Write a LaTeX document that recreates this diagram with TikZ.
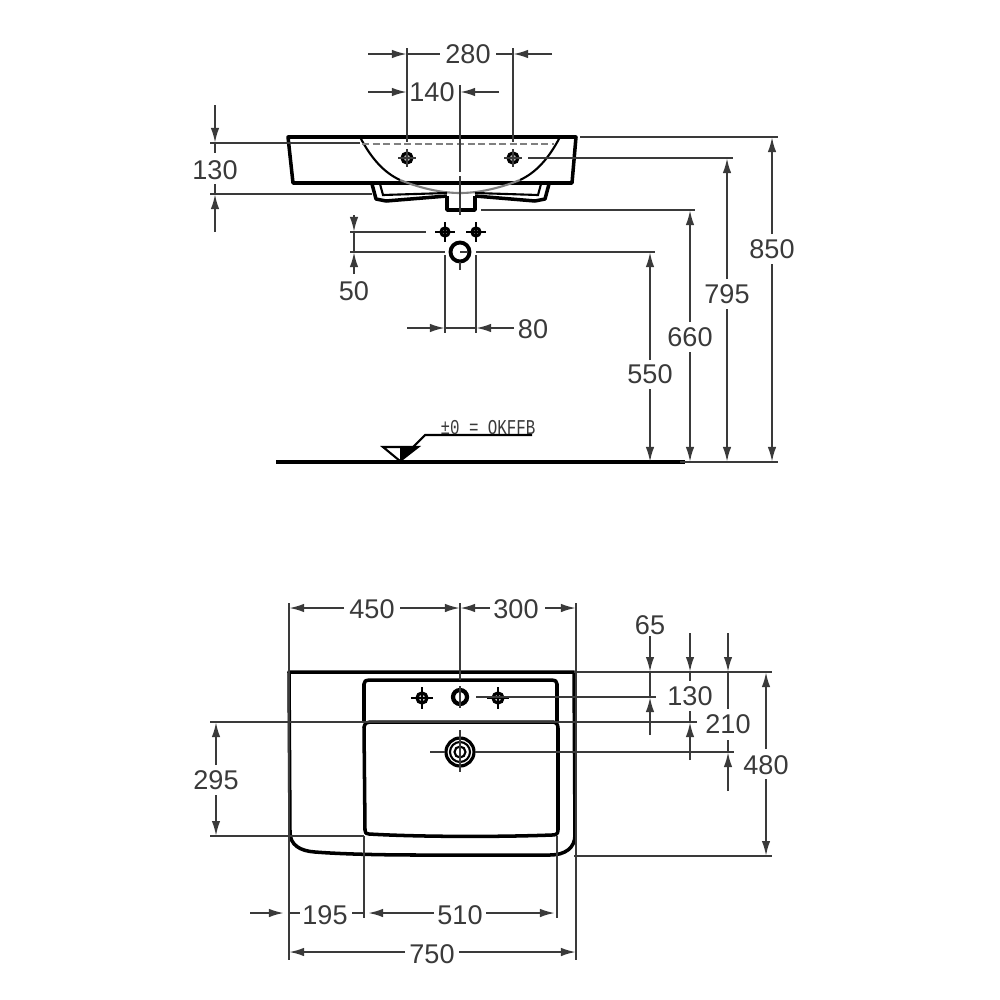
\documentclass[tikz,border=0pt]{standalone}
\usepackage{fontspec}
\setmainfont{Liberation Sans}
\newfontfamily\levelfont{Liberation Mono}
\usetikzlibrary{arrows.meta,calc}
\definecolor{dimgray}{HTML}{3A3A3A}
\tikzset{
    outline/.style = {draw=black, line width=1pt, line join=round},
    thinline/.style = {draw=black, line width=0.6pt},
    dimline/.style = {draw=dimgray, line width=0.6pt},
    dimarrow/.style = {dimline, -{Latex[length=1.5mm,width=0.85mm]}},
    dimtext/.style = {text=dimgray, font=\fontsize{7.7}{9}\selectfont, inner sep=0pt},
    hole/.style = {draw=black, line width=0.9pt, fill=gray!60},
    floorline/.style = {draw=black, line width=1.2pt}
}
% cross through a fitting, arm lengths in px
\def\fitcross#1{%
    +(-#1,0) -- +(#1,0) +(0,-#1) -- +(0,#1)
}
\begin{document}
\begin{tikzpicture}[x=0.01cm,y=-0.01cm]
    \useasboundingbox (0,0) rectangle (1000,1000);
    % side view, basin
    \draw [outline] (288,137) -- (576,137) -- (572,183) -- (293,183) -- cycle;
    \draw [thinline] (360,137) .. controls (372,160) and (385,173) .. (400,180);
    \draw [thinline] (520,180) .. controls (535,173) and (548,160) .. (560,137);
    \draw [thinline, gray] (400,180) .. controls (425,190) and (445,193) .. (460,193) .. controls (475,193) and (495,190) .. (520,180);
    \draw [thinline, dashed, dash pattern=on 2pt off 1pt, gray] (362,144) -- (554,144);
    \draw [outline] (372,184) -- (376,199) -- (386,201) -- (447,196);
    \draw [thinline] (380,184) -- (383,195) -- (447,193);
    \draw [outline] (549,184) -- (545,199) -- (535,201) -- (475,196);
    \draw [thinline] (541,184) -- (538,195) -- (475,193);
    \draw [outline] (447,196) -- (447,210) -- (475,210) -- (475,196);
    \draw [hole] (407,158) circle (5);
    \draw [hole] (513,158) circle (5);
    \draw [dimline] (407,158) \fitcross{9};
    \draw [dimline] (513,158) \fitcross{9};
    \draw [hole] (445,232) circle (4);
    \draw [hole] (476,232) circle (4);
    \draw [thinline] (445,232) \fitcross{10};
    \draw [thinline] (476,232) \fitcross{10};
    \draw [draw=black, line width=1.1pt] (460,252) circle (9.5);
    \draw [dimline] (460,252) -- (468,252);
    \draw [dimline] (460,262) -- (460,270);
    % floor and level mark
    \draw [floorline] (276,462) -- (685,462);
    \draw [thinline] (383,447) -- (400,461) -- (418,447) -- cycle;
    \fill [black] (400,447) -- (418,447) -- (400,461) -- cycle;
    \draw [thinline] (413,447) -- (425,435) -- (532,435);
    \node [name=levelmark, text=dimgray, xscale=0.75, font=\levelfont\fontsize{6}{7}\selectfont, inner sep=0pt] at (488,428) {±0 = OKFFB};
    % side view, extension lines
    \draw [dimline] (407,48) -- (407,142);
    \draw [dimline] (513,48) -- (513,142);
    \draw [dimline] (460,85) -- (460,172) (460,176) -- (460,215);
    \draw [dimline] (210,143) -- (360,143);
    \draw [dimline] (210,194) -- (372,194);
    \draw [dimline] (350,232) -- (426,232);
    \draw [dimline] (350,252) -- (445,252);
    \draw [dimline] (445,255) -- (445,333);
    \draw [dimline] (476,255) -- (476,333);
    \draw [dimline] (580,137) -- (778,137);
    \draw [dimline] (528,158) -- (733,158);
    \draw [dimline] (481,210) -- (695,210);
    \draw [dimline] (476,252) -- (655,252);
    \draw [dimline] (680,462) -- (778,462);
    % side view, dimensions
    \node [dimtext, name=dimA] at (468,54) {280};
    \draw [dimarrow] (368,54) -- (407,54);
    \draw [dimline] (407,54) -- (440,54);
    \draw [dimarrow] (552,54) -- (513,54);
    \draw [dimline] (496,54) -- (513,54);
    \node [dimtext, name=dimB] at (432,92) {140};
    \draw [dimarrow] (368,92) -- (407,92);
    \draw [dimarrow] (499,92) -- (460,92);
    \node [dimtext, name=dimC] at (215,170) {130};
    \draw [dimarrow] (215,105) -- (215,143);
    \draw [dimline] (215,143) -- (215,153);
    \draw [dimarrow] (215,232) -- (215,194);
    \draw [dimline] (215,184) -- (215,194);
    \node [dimtext, name=dimD] at (354,291) {50};
    \draw [dimarrow] (354,215) -- (354,232);
    \draw [dimline] (354,232) -- (354,252);
    \draw [dimarrow] (354,274) -- (354,252);
    \node [dimtext, name=dimE] at (533,329) {80};
    \draw [dimarrow] (407,328) -- (445,328);
    \draw [dimline] (445,328) -- (476,328);
    \draw [dimarrow] (514,328) -- (476,328);
    \node [dimtext, name=dimF] at (650,374) {550};
    \draw [dimarrow] (650,360) -- (650,252);
    \draw [dimarrow] (650,389) -- (650,462);
    \node [dimtext, name=dimG] at (690,337) {660};
    \draw [dimarrow] (690,322) -- (690,210);
    \draw [dimarrow] (690,352) -- (690,462);
    \node [dimtext, name=dimH] at (727,294) {795};
    \draw [dimarrow] (727,279) -- (727,158);
    \draw [dimarrow] (727,309) -- (727,462);
    \node [dimtext, name=dimI] at (772,249) {850};
    \draw [dimarrow] (772,234) -- (772,137);
    \draw [dimarrow] (772,264) -- (772,462);
    % top view, basin
    \draw [outline] (289,672) -- (574,672) -- (575,835) .. controls (575,848) and (565,855) .. (550,855) -- (420,855) .. controls (380,855) and (340,854) .. (315,852) .. controls (300,851) and (290,845) .. (290,832) -- cycle;
    \draw [outline] (364,722) -- (364,684) .. controls (364,681) and (366,680) .. (369,680) -- (552,680) .. controls (555,680) and (557,681) .. (557,684) -- (557,722);
    \draw [outline] (364,727) .. controls (365,723) and (367,722) .. (370,722) -- (552,722) .. controls (556,722) and (558,724) .. (558,728) -- (558,830) .. controls (558,834) and (556,835) .. (552,835) .. controls (500,837) and (420,837) .. (369,834) .. controls (366,834) and (365,833) .. (365,830) -- cycle;
    \draw [hole, fill=gray!40] (422,698) circle (5);
    \draw [hole, fill=gray!40] (498,698) circle (5);
    \draw [thinline] (422,698) \fitcross{11};
    \draw [thinline] (498,698) \fitcross{11};
    \draw [draw=black, line width=1.2pt] (460,697) circle (7);
    \draw [dimline] (460,686) -- (460,708);
    \draw [draw=black, line width=0.9pt] (460,752) circle (14);
    \draw [draw=black, line width=0.6pt] (460,752) circle (10);
    \draw [draw=black, line width=0.6pt] (460,752) circle (5.5);
    \draw [dimline] (430,752) -- (445,752) (460,730) -- (460,772);
    % top view, extension lines
    \draw [dimline] (289,603) -- (289,960);
    \draw [dimline] (576,603) -- (576,960);
    \draw [dimline] (460,603) -- (460,680);
    \draw [dimline] (364,836) -- (364,918);
    \draw [dimline] (557,836) -- (557,918);
    \draw [dimline] (574,672) -- (772,672);
    \draw [dimline] (476,697) -- (656,697);
    \draw [dimline] (210,722) -- (697,722);
    \draw [dimline] (475,752) -- (734,752);
    \draw [dimline] (210,836) -- (364,836);
    \draw [dimline] (574,856) -- (772,856);
    % top view, dimensions
    \node [dimtext, name=dimJ] at (372,609) {450};
    \draw [dimarrow] (344,608) -- (289,608);
    \draw [dimarrow] (400,608) -- (460,608);
    \node [dimtext, name=dimK] at (516,609) {300};
    \draw [dimarrow] (490,608) -- (460,608);
    \draw [dimarrow] (545,608) -- (576,608);
    \node [dimtext, name=dimL] at (650,625) {65};
    \draw [dimarrow] (650,636) -- (650,672);
    \draw [dimline] (650,672) -- (650,697);
    \draw [dimarrow] (650,735) -- (650,697);
    \node [dimtext, name=dimM] at (690,696) {130};
    \draw [dimarrow] (690,633) -- (690,672);
    \draw [dimline] (690,672) -- (690,681);
    \draw [dimarrow] (690,760) -- (690,722);
    \draw [dimline] (690,711) -- (690,722);
    \node [dimtext, name=dimN] at (728,724) {210};
    \draw [dimarrow] (728,633) -- (728,672);
    \draw [dimline] (728,672) -- (728,709);
    \draw [dimarrow] (728,791) -- (728,752);
    \draw [dimline] (728,740) -- (728,752);
    \node [dimtext, name=dimO] at (766,765) {480};
    \draw [dimarrow] (766,749) -- (766,672);
    \draw [dimarrow] (766,779) -- (766,856);
    \node [dimtext, name=dimP] at (216,780) {295};
    \draw [dimarrow] (216,765) -- (216,722);
    \draw [dimarrow] (216,795) -- (216,836);
    \node [dimtext, name=dimQ] at (325,915) {195};
    \draw [dimarrow] (250,913) -- (284,913);
    \draw [dimline] (289,913) -- (300,913);
    \draw [dimline] (352,913) -- (364,913);
    \node [dimtext, name=dimR] at (460,915) {510};
    \draw [dimarrow] (434,913) -- (368,913);
    \draw [dimarrow] (486,913) -- (555,913);
    \node [dimtext, name=dimS] at (432,954) {750};
    \draw [dimarrow] (405,952) -- (289,952);
    \draw [dimarrow] (459,952) -- (576,952);
\end{tikzpicture}
\end{document}
